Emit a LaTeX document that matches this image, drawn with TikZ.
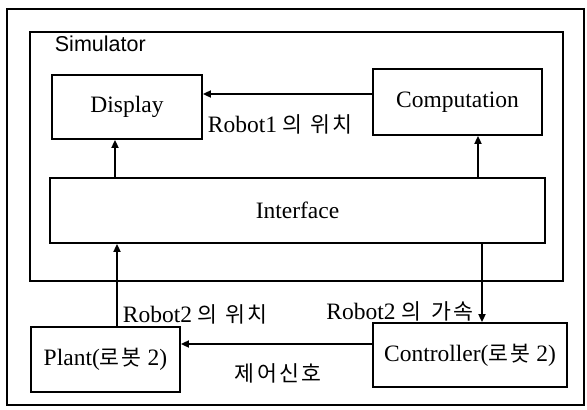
\documentclass[tikz,border=0pt]{standalone}
\usepackage{fontspec}
\setmainfont{Liberation Serif}
\newfontfamily\sanslabel{Liberation Sans}
\newfontfamily\kr[Scale=0.92,LetterSpace=10]{Noto Sans CJK KR}
\usetikzlibrary{arrows.meta}
\begin{document}
\begin{tikzpicture}[x=1pt,y=-1pt,
  line width=1.8pt,
  block/.style={draw,rectangle,inner sep=0pt,font=\fontsize{23.5}{27}\selectfont},
  lbl/.style={inner sep=0pt,font=\fontsize{23.5}{27}\selectfont},
  arr/.style={-{Triangle[length=8pt,width=7pt]}}]
  \useasboundingbox (0,0) rectangle (587,410);
  % outer frame and simulator frame
  \draw (7,9) rectangle (584,405);
  \draw (30,32) rectangle (563,281);
  \node[anchor=west,inner sep=0pt,font=\sanslabel\fontsize{21.5}{25}\selectfont] (sim) at (54,44) {Simulator};

  % blocks
  \node[block,minimum width=150pt,minimum height=64pt] (disp) at (127,107) {Display};
  \node[block,minimum width=169pt,minimum height=66pt] (comp) at (457.5,102) {Computation};
  \node[block,minimum width=495pt,minimum height=65pt] (iface) at (297.5,210.5) {Interface};
  \node[block,minimum width=149pt,minimum height=65pt] (plant) at (105.5,359.5) {Plant({\kr 로봇} 2)};
  \node[block,minimum width=194pt,minimum height=64pt] (ctrl) at (470,355) {Controller({\kr 로봇} 2)};

  % connectors
  \draw[arr] ([yshift=8pt]comp.west) coordinate (r1) -- (r1 -| disp.east);
  \draw[arr] ([xshift=-12pt]disp.south |- iface.north) -- ([xshift=-12pt]disp.south);
  \draw[arr] ([xshift=20.5pt]comp.south |- iface.north) -- ([xshift=20.5pt]comp.south);
  \draw[arr] ([xshift=11.5pt]plant.north) -- ([xshift=11.5pt]plant.north |- iface.south);
  \draw[arr] ([xshift=12pt]ctrl.north |- iface.south) -- ([xshift=12pt]ctrl.north);
  \draw[arr] ([yshift=11pt]ctrl.west) coordinate (c1) -- (c1 -| plant.east);

  % connector labels
  \node[lbl,anchor=west] (l1) at (207,124) {Robot1 {\kr 의\hspace{0.35em}위치}};
  \node[lbl,anchor=west] (l2) at (122,314) {Robot2 {\kr 의\hspace{0.35em}위치}};
  \node[lbl,anchor=east] (l3) at (474,311) {Robot2 {\kr 의\hspace{0.45em}가속}};
  \node[lbl] (l4) at (278,373) {\kr 제어신호};
\end{tikzpicture}
\end{document}
